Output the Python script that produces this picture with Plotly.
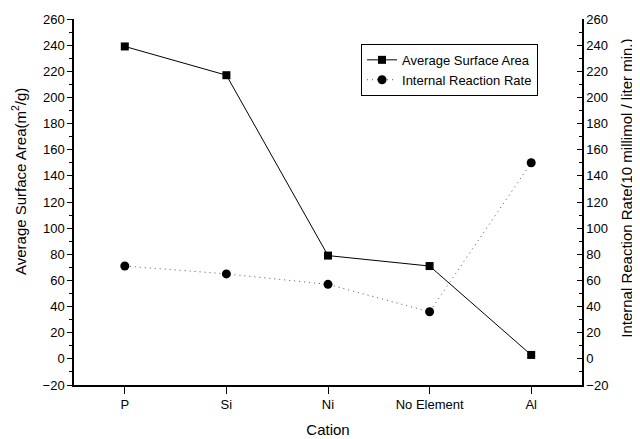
import plotly.graph_objects as go

categories = ["P", "Si", "Ni", "No Element", "Al"]
surface_area = [239, 217, 79, 71, 3]
reaction_rate = [71, 65, 57, 36, 150]

font = "Liberation Sans, Arial, sans-serif"

fig = go.Figure()
fig.add_trace(go.Scatter(
    x=categories, y=surface_area, name="Average Surface Area",
    mode="lines+markers",
    line=dict(color="black", width=1),
    marker=dict(symbol="square", size=8, color="black"),
))
fig.add_trace(go.Scatter(
    x=categories, y=reaction_rate, name="Internal Reaction Rate",
    mode="lines+markers", yaxis="y2",
    line=dict(color="#555", width=1, dash="1px,4px"),
    marker=dict(symbol="circle", size=9, color="black"),
))

yaxis_common = dict(
    range=[-20, 260], dtick=20, tick0=0,
    showgrid=False, zeroline=False, automargin=False,
    showline=True, linecolor="black", linewidth=1.5,
    ticklen=5, tickcolor="black",
    tickfont=dict(size=13, color="black", family=font),
)

# page body has an 8px margin, so the figure is sized/offset to compensate
fig.update_layout(
    width=632, height=431,
    paper_bgcolor="white", plot_bgcolor="white",
    margin=dict(l=66, r=58, t=11, b=54),
    font=dict(family=font, color="black"),
    showlegend=True,
    legend=dict(
        x=0.565, y=0.932, xanchor="left", yanchor="top",
        bordercolor="black", borderwidth=1,
        font=dict(size=13, family=font),
        bgcolor="white", tracegroupgap=0, itemwidth=30,
    ),
    xaxis=dict(
        type="category", range=[-0.5, 4.5], automargin=False,
        showgrid=False, zeroline=False,
        showline=True, linecolor="black", linewidth=1.5,
        ticks="outside", ticklen=7, tickcolor="black",
        tickfont=dict(size=13, family=font),
        title=dict(text="Cation", font=dict(size=15, family=font), standoff=13),
    ),
    xaxis2=dict(
        overlaying="x", side="top", type="linear", range=[-0.5, 4.5],
        tickmode="array", tickvals=list(range(len(categories))),
        showticklabels=False, automargin=False,
        showgrid=False, zeroline=False,
        showline=True, linecolor="black", linewidth=1.5,
        ticks="inside", ticklen=6, tickcolor="black",
    ),
    yaxis=dict(
        **yaxis_common, ticks="outside",
        minor=dict(dtick=10, ticklen=3, tickcolor="black", ticks="outside"),
    ),
    yaxis2=dict(
        **yaxis_common, ticks="inside", overlaying="y", side="right",
        minor=dict(dtick=10, ticklen=3, tickcolor="black", ticks="inside"),
    ),
    annotations=[
        dict(text="Average Surface Area(m<sup>2</sup>/g)", textangle=-90,
             xref="paper", yref="paper", x=-0.108, y=0.555,
             xanchor="center", yanchor="middle", showarrow=False,
             font=dict(size=15, family=font)),
        dict(text="Internal Reaction Rate(10 millimol / liter min.)", textangle=-90,
             xref="paper", yref="paper", x=1.086, y=0.538,
             xanchor="center", yanchor="middle", showarrow=False,
             font=dict(size=15, family=font)),
    ],
)

fig.write_html("out.html")
